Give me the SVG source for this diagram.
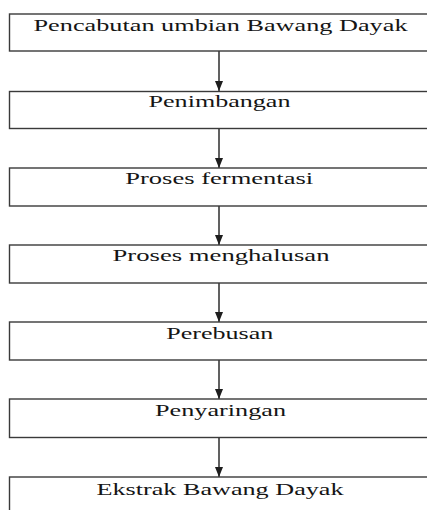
<svg xmlns="http://www.w3.org/2000/svg" width="427" height="510" viewBox="0 0 427 510">
  <style>
    .box { fill: #ffffff; stroke: #3a3a3a; stroke-width: 1.4; }
    .label { font-family: "Liberation Serif", "Times New Roman", serif; font-size: 17px; fill: #151515; text-anchor: middle; }
    .link { stroke: #1e1e1e; stroke-width: 1.4; fill: none; }
  </style>
  <defs>
    <marker id="arrowhead" viewBox="0 0 10 8" refX="10" refY="4" markerWidth="10" markerHeight="8" markerUnits="userSpaceOnUse" orient="auto">
      <path d="M0,0 L10,4 L0,8 Z" fill="#1e1e1e"/>
    </marker>
  </defs>
  <rect width="427" height="510" fill="#ffffff"/>

  <g id="connectors">
    <line class="link" x1="219" y1="51" x2="219" y2="91" marker-end="url(#arrowhead)"/>
    <line class="link" x1="219" y1="128" x2="219" y2="168" marker-end="url(#arrowhead)"/>
    <line class="link" x1="219" y1="206" x2="219" y2="245" marker-end="url(#arrowhead)"/>
    <line class="link" x1="219" y1="283" x2="219" y2="322" marker-end="url(#arrowhead)"/>
    <line class="link" x1="219" y1="360" x2="219" y2="399" marker-end="url(#arrowhead)"/>
    <line class="link" x1="219" y1="437.5" x2="219" y2="477" marker-end="url(#arrowhead)"/>
  </g>

  <!-- labels are set in a horizontally widened serif face -->
  <g id="pencabutan">
    <rect class="box" x="9.5" y="14" width="421" height="37"/>
    <g transform="translate(220.5 0) scale(1.55 1)">
      <text class="label" x="0" y="31.5" textLength="241.3" lengthAdjust="spacingAndGlyphs">Pencabutan umbian Bawang Dayak</text>
    </g>
  </g>
  <g id="penimbangan">
    <rect class="box" x="9.5" y="91.5" width="421" height="37"/>
    <g transform="translate(219.5 0) scale(1.55 1)">
      <text class="label" x="0" y="107.5" textLength="91.6" lengthAdjust="spacingAndGlyphs">Penimbangan</text>
    </g>
  </g>
  <g id="fermentasi">
    <rect class="box" x="9.5" y="168" width="421" height="38"/>
    <g transform="translate(219.2 0) scale(1.55 1)">
      <text class="label" x="0" y="184.3" textLength="121.3" lengthAdjust="spacingAndGlyphs">Proses fermentasi</text>
    </g>
  </g>
  <g id="menghalusan">
    <rect class="box" x="9.5" y="245" width="421" height="38"/>
    <g transform="translate(221 0) scale(1.55 1)">
      <text class="label" x="0" y="261.5" textLength="140" lengthAdjust="spacingAndGlyphs">Proses menghalusan</text>
    </g>
  </g>
  <g id="perebusan">
    <rect class="box" x="9.5" y="322" width="421" height="38"/>
    <g transform="translate(219.7 0) scale(1.55 1)">
      <text class="label" x="0" y="338.8" textLength="69" lengthAdjust="spacingAndGlyphs">Perebusan</text>
    </g>
  </g>
  <g id="penyaringan">
    <rect class="box" x="9.5" y="399" width="421" height="38.5"/>
    <g transform="translate(220.5 0) scale(1.55 1)">
      <text class="label" x="0" y="415.8" textLength="84.5" lengthAdjust="spacingAndGlyphs">Penyaringan</text>
    </g>
  </g>
  <g id="ekstrak">
    <rect class="box" x="9.5" y="477" width="421" height="40"/>
    <g transform="translate(220 0) scale(1.55 1)">
      <text class="label" x="0" y="495" textLength="159.4" lengthAdjust="spacingAndGlyphs">Ekstrak Bawang Dayak</text>
    </g>
  </g>
</svg>
